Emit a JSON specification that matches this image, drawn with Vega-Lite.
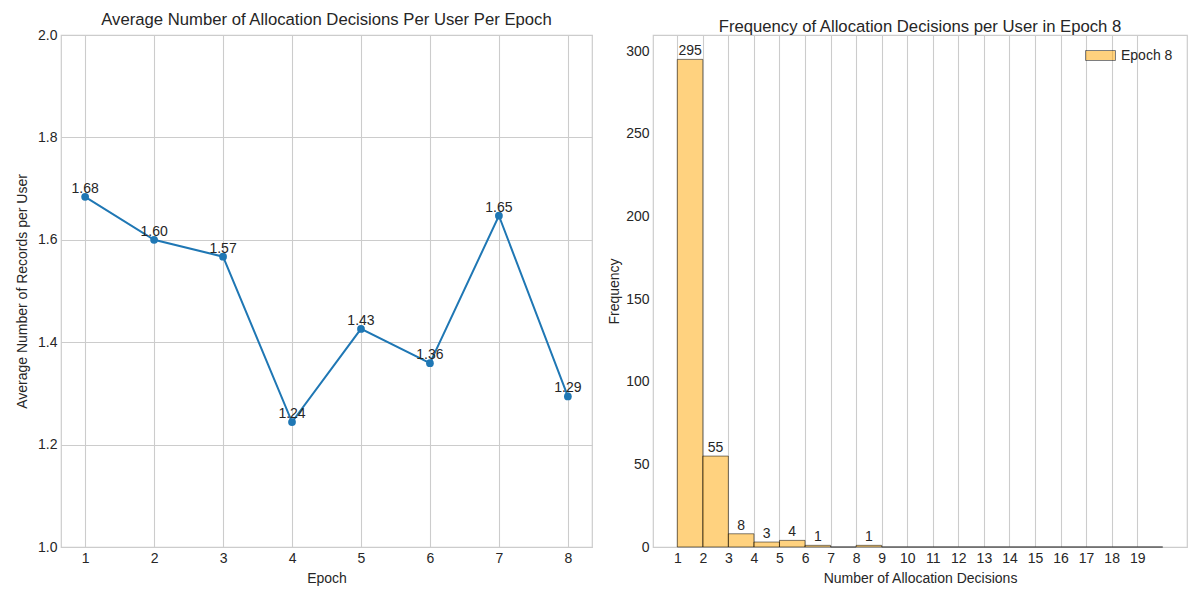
{
  "$schema": "https://vega.github.io/schema/vega-lite/v6.json",
  "background": "white",
  "padding": {"left": 14, "top": 11, "right": 14, "bottom": 10},
  "spacing": 14,
  "resolve": {"legend": {"color": "independent"}, "scale": {"color": "independent"}},
  "datasets": {
    "epochs": [
      {"epoch": 1, "avg": 1.684},
      {"epoch": 2, "avg": 1.600},
      {"epoch": 3, "avg": 1.567},
      {"epoch": 4, "avg": 1.244},
      {"epoch": 5, "avg": 1.426},
      {"epoch": 6, "avg": 1.359},
      {"epoch": 7, "avg": 1.647},
      {"epoch": 8, "avg": 1.294}
    ],
    "hist": [
      {"bin_start": 1, "bin_end": 2, "count": 295, "series": "Epoch 8"},
      {"bin_start": 2, "bin_end": 3, "count": 55, "series": "Epoch 8"},
      {"bin_start": 3, "bin_end": 4, "count": 8, "series": "Epoch 8"},
      {"bin_start": 4, "bin_end": 5, "count": 3, "series": "Epoch 8"},
      {"bin_start": 5, "bin_end": 6, "count": 4, "series": "Epoch 8"},
      {"bin_start": 6, "bin_end": 7, "count": 1, "series": "Epoch 8"},
      {"bin_start": 7, "bin_end": 8, "count": 0, "series": "Epoch 8"},
      {"bin_start": 8, "bin_end": 9, "count": 1, "series": "Epoch 8"},
      {"bin_start": 9, "bin_end": 10, "count": 0, "series": "Epoch 8"},
      {"bin_start": 10, "bin_end": 11, "count": 0, "series": "Epoch 8"},
      {"bin_start": 11, "bin_end": 12, "count": 0, "series": "Epoch 8"},
      {"bin_start": 12, "bin_end": 13, "count": 0, "series": "Epoch 8"},
      {"bin_start": 13, "bin_end": 14, "count": 0, "series": "Epoch 8"},
      {"bin_start": 14, "bin_end": 15, "count": 0, "series": "Epoch 8"},
      {"bin_start": 15, "bin_end": 16, "count": 0, "series": "Epoch 8"},
      {"bin_start": 16, "bin_end": 17, "count": 0, "series": "Epoch 8"},
      {"bin_start": 17, "bin_end": 18, "count": 0, "series": "Epoch 8"},
      {"bin_start": 18, "bin_end": 19, "count": 0, "series": "Epoch 8"},
      {"bin_start": 19, "bin_end": 20, "count": 0, "series": "Epoch 8"}
    ]
  },
  "hconcat": [
    {
      "width": 531,
      "height": 512,
      "title": "Average Number of Allocation Decisions Per User Per Epoch",
      "data": {"name": "epochs"},
      "encoding": {
        "x": {
          "field": "epoch", "type": "quantitative", "title": "Epoch",
          "scale": {"domain": [0.65, 8.35], "nice": false, "zero": false},
          "axis": {"values": [1, 2, 3, 4, 5, 6, 7, 8], "format": "d"}
        },
        "y": {
          "field": "avg", "type": "quantitative", "title": "Average Number of Records per User",
          "scale": {"domain": [1, 2], "nice": false, "zero": false},
          "axis": {"values": [1.0, 1.2, 1.4, 1.6, 1.8, 2.0], "format": ".1f", "titlePadding": 8}
        }
      },
      "layer": [
        {"mark": {"type": "line", "color": "#1f77b4", "strokeWidth": 2}},
        {"mark": {"type": "point", "filled": true, "shape": "circle", "size": 60, "color": "#1f77b4", "opacity": 1}},
        {
          "mark": {"type": "text", "baseline": "bottom", "dy": -1, "fontSize": 14, "color": "#262626"},
          "encoding": {"text": {"field": "avg", "type": "quantitative", "format": ".2f"}}
        }
      ]
    },
    {
      "width": 534,
      "height": 512,
      "title": "Frequency of Allocation Decisions per User in Epoch 8",
      "data": {"name": "hist"},
      "encoding": {
        "x": {
          "field": "bin_start", "type": "quantitative", "title": "Number of Allocation Decisions",
          "scale": {"domain": [0.05, 20.95], "nice": false, "zero": false},
          "axis": {"values": [1, 2, 3, 4, 5, 6, 7, 8, 9, 10, 11, 12, 13, 14, 15, 16, 17, 18, 19], "format": "d"}
        },
        "y": {
          "field": "count", "type": "quantitative", "title": "Frequency",
          "scale": {"domain": [0, 309.75], "nice": false},
          "axis": {"values": [0, 50, 100, 150, 200, 250, 300], "grid": false, "titlePadding": 4}
        }
      },
      "layer": [
        {
          "mark": {"type": "bar", "fill": "#FFA500", "fillOpacity": 0.5, "stroke": "black", "strokeOpacity": 0.5, "strokeWidth": 1},
          "encoding": {
            "x2": {"field": "bin_end"},
            "y2": {"datum": 0},
            "color": {
              "field": "series", "type": "nominal",
              "scale": {"range": ["#FFA500"]},
              "legend": {
                "title": null, "orient": "none", "legendX": 437, "legendY": 10,
                "symbolType": "M-1.5,-0.5H1.5V0.5H-1.5Z", "symbolSize": 400,
                "symbolStrokeColor": "black", "symbolStrokeWidth": 1, "symbolOpacity": 0.5,
                "labelFontSize": 14, "labelColor": "#262626", "labelOffset": 10
              }
            }
          }
        },
        {
          "transform": [{"filter": "datum.count > 0"}, {"calculate": "(datum.bin_start + datum.bin_end) / 2", "as": "mid"}],
          "mark": {"type": "text", "baseline": "bottom", "dy": -1, "fontSize": 14, "color": "#262626"},
          "encoding": {
            "x": {"field": "mid", "type": "quantitative"},
            "text": {"field": "count", "type": "quantitative"}
          }
        }
      ]
    }
  ],
  "config": {
    "font": "Liberation Sans",
    "view": {"stroke": "#cccccc", "strokeWidth": 1.2},
    "title": {"fontSize": 16.7, "fontWeight": "normal", "color": "#262626", "offset": -1},
    "axis": {
      "domain": false, "ticks": false,
      "grid": true, "gridColor": "#cccccc", "gridWidth": 1.1,
      "labelFontSize": 14, "labelColor": "#262626", "labelPadding": 4,
      "titleFontSize": 14, "titleFontWeight": "normal", "titleColor": "#262626", "titlePadding": 6
    }
  }
}
